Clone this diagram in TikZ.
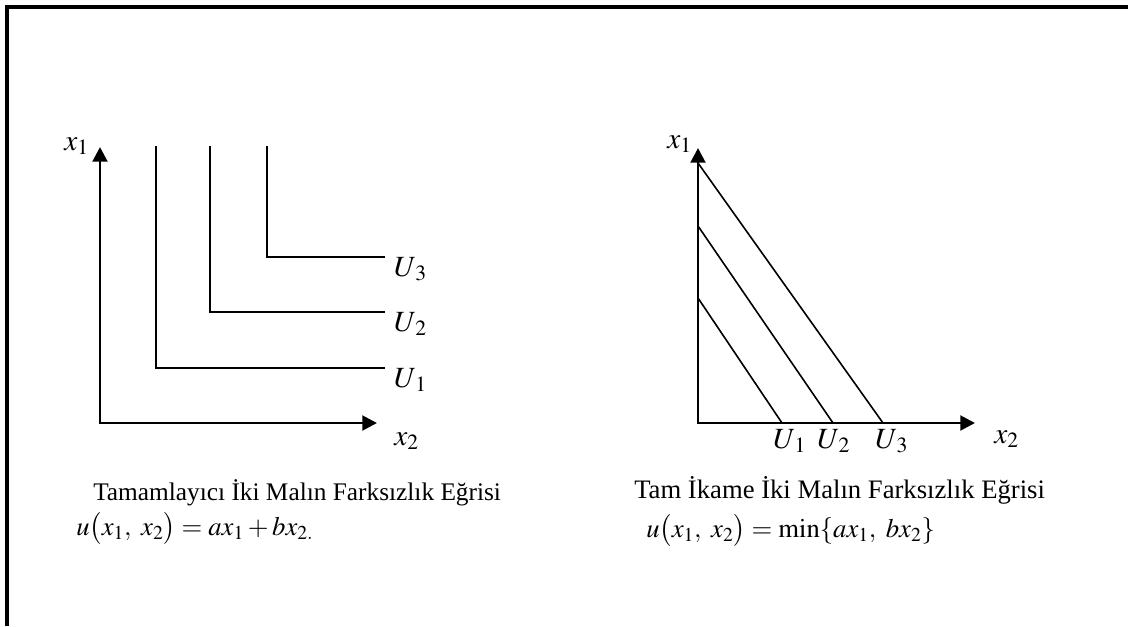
\documentclass[tikz,border=0pt]{standalone}
\usepackage{mathptmx}
\usepackage{fontspec}
\setmainfont{Liberation Serif}
\usetikzlibrary{positioning,arrows.meta}

\begin{document}
\begin{tikzpicture}[x=0.75pt,y=-0.75pt,
    font=\fontsize{19}{22}\selectfont,
    axis/.style={line width=2.2pt,
      {Triangle[length=11pt,width=11pt]}-{Triangle[length=11pt,width=11pt]}},
    lcurve/.style={line width=1.6pt},
    dline/.style={line width=1.2pt},
    lbl/.style={inner sep=0pt, anchor=base west, font=\fontsize{22}{24}\selectfont},
    captxt/.style={inner sep=0pt, anchor=base west}
  ]
  \useasboundingbox (0,0) rectangle (1128,626);
  \draw[line width=3pt] (7,626) -- (7,7) -- (1128,7);

  % tamamlayici
  \coordinate (ya) at (100,147);
  \coordinate (oa) at (100,423);
  \coordinate (xa) at (377,423);
  \draw[axis] (ya) -- (oa) -- (xa);
  \node[lbl] (ya lbl) at (64,150) {$x_1$};
  \node[lbl] (xa lbl) at (394,445) {$x_2$};
  \foreach \cx/\cy/\i in {156/368/1,210/312/2,267/257/3}{
    \draw[lcurve] (\cx,146) -- (\cx,\cy) -- (385,\cy)
      node[lbl, xshift=6pt, yshift=-14.5pt] (ua\i) {$U_{\,\i}$};
  }
  \node[captxt] (capa) at (93,500) {Tamamlayıcı İki Malın Farksızlık Eğrisi};
  \node[captxt, font=\fontsize{20}{22}\selectfont] (fa) at (76,535)
    {$u\bigl(x_1,\ x_2\bigr) = ax_1 + bx_{2.}$};

  % tam ikame
  \coordinate (yb) at (698,148);
  \coordinate (ob) at (698,423);
  \coordinate (xb) at (975,423);
  \draw[axis] (yb) -- (ob) -- (xb);
  \node[lbl] (yb lbl) at (667,148) {$x_1$};
  \node[lbl] (xb lbl) at (994,443) {$x_2$};
  \foreach \ty/\bx/\lx/\i in {298/782/773/1,226/833/817/2,163/883/875/3}{
    \draw[dline] (698,\ty) -- (\bx,423);
    \node[lbl] (ub\i) at (\lx,448) {$U_{\,\i}$};
  }
  \node[captxt, font=\fontsize{20}{22}\selectfont] (capb) at (634,498)
    {Tam İkame İki Malın Farksızlık Eğrisi};
  \node[captxt, font=\fontsize{20}{22}\selectfont] (fb) at (646,537)
    {$u\bigl(x_1,\ x_2\bigr) = \min\{ax_1,\ bx_2\}$};
\end{tikzpicture}
\end{document}
